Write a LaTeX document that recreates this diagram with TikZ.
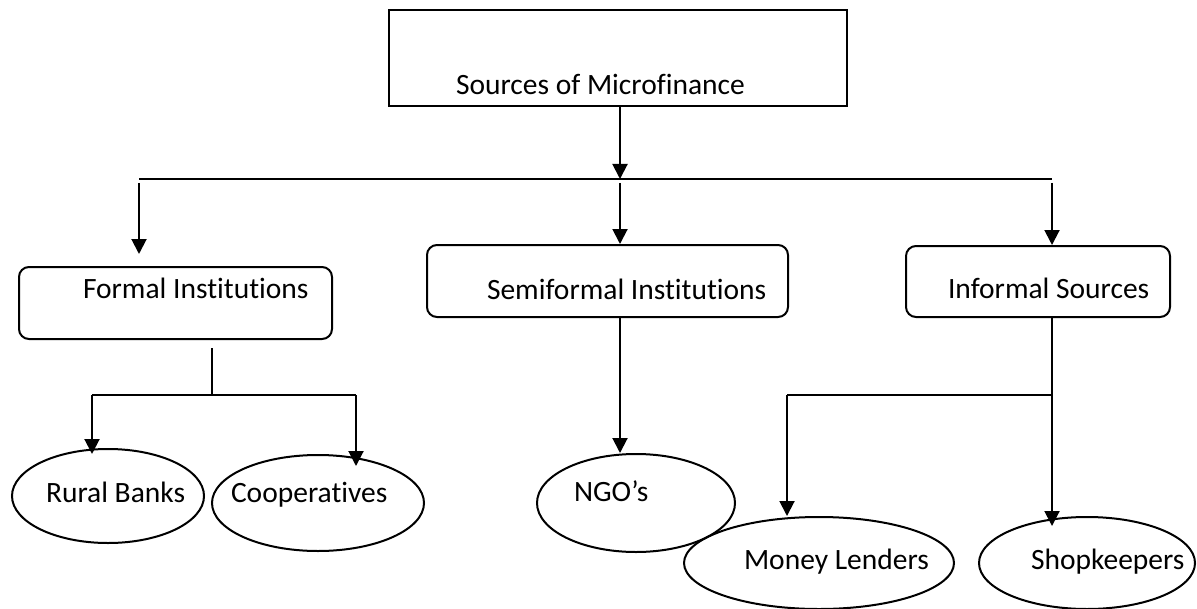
\documentclass[tikz,border=0pt]{standalone}
\usepackage{fontspec}
\setmainfont{Carlito}[Ligatures=NoCommon]
\usetikzlibrary{arrows.meta,shapes.geometric}

\begin{document}
\begin{tikzpicture}[x=0.5pt,y=-0.5pt,line width=1pt,
  box/.style={draw,inner sep=0pt},
  rbox/.style={draw,rounded corners=5pt,inner sep=0pt},
  oval/.style={draw,ellipse,inner sep=0pt},
  txt/.style={font=\fontsize{14.75}{17}\selectfont,anchor=base west,inner sep=0pt},
  arr/.style={-{Triangle[width=7.5pt,length=7.5pt]}}]
\useasboundingbox (0,0) rectangle (1197,609);

\node[box,minimum width=229pt,minimum height=48pt] (src) at (618,58) {};
\node[rbox,minimum width=156.5pt,minimum height=36pt] (formal) at (175.5,303) {};
\node[rbox,minimum width=180.5pt,minimum height=36pt] (semi) at (607.5,281) {};
\node[rbox,minimum width=132pt,minimum height=35.5pt] (inf) at (1038,281.5) {};
\node[oval,minimum width=96pt,minimum height=47pt] (rural) at (108,496) {};
\node[oval,minimum width=106pt,minimum height=48pt] (coop) at (318,503) {};
\node[oval,minimum width=99pt,minimum height=49pt] (ngo) at (636,503) {};
\node[oval,minimum width=135pt,minimum height=46pt] (lend) at (819,563) {};
\node[oval,minimum width=108pt,minimum height=46pt] (shop) at (1087,563) {};

\node[txt] (srcT) at (455,95) {Sources of Microfinance};
\node[txt] (formalT) at (82,298) {Formal Institutions};
\node[txt] (semiT) at (486,299) {Semiformal Institutions};
\node[txt] (infT) at (947,298) {Informal Sources};
\node[txt] (ruralT) at (45,502) {Rural Banks};
\node[txt] (coopT) at (230,502) {Cooperatives};
\node[txt] (ngoT) at (573,501) {NGO’s};
\node[txt] (lendT) at (743,569) {Money Lenders};
\node[txt] (shopT) at (1030,569) {Shopkeepers};

\coordinate (busL) at (139,179);
\coordinate (hub) at (620,179);
\coordinate (busR) at (1052,179);
\coordinate (fj) at (212,395);
\coordinate (fl) at (92,395);
\coordinate (fr) at (356,395);
\coordinate (ij) at (1052,395);
\coordinate (il) at (787,395);

\draw[arr] (hub |- src.south) -- (hub);
\draw (busL) -- (busR);
\draw[arr] ([yshift=-2pt]busL) -- ([yshift=6pt]busL |- formal.north);
\draw[arr] ([yshift=-2pt]hub) -- (hub |- semi.north);
\draw[arr] ([yshift=-2pt]busR) -- (busR |- inf.north);

\draw ([yshift=-4pt]fj |- formal.south) -- (fj);
\draw (fl) -- (fr);
\draw[arr] (fl) -- ([yshift=-3pt]fl |- rural.north);
\draw[arr] (fr) -- ([yshift=-6pt]fr |- coop.north);

\draw[arr] (hub |- semi.south) -- (hub |- ngo.north);

\draw[arr] (ij |- inf.south) -- ([yshift=-5pt]ij |- shop.north);
\draw (il) -- (ij);
\draw[arr] (il) -- (il |- lend.north);
\end{tikzpicture}
\end{document}
